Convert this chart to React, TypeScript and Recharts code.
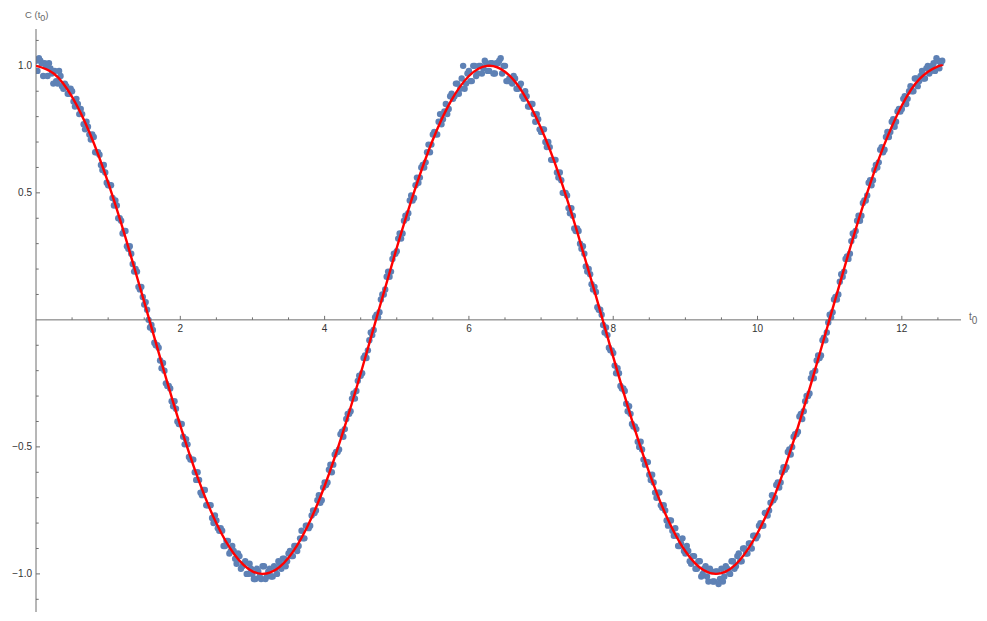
import { ComposedChart, Scatter, Line, XAxis, YAxis, ReferenceLine, ReferenceDot } from "recharts";

// sample times t0 (first pass)
const tValues = [
  0, 0.04, 0.08, 0.12, 0.16, 0.2, 0.24, 0.28, 0.32, 0.36,
  0.4, 0.44, 0.48, 0.52, 0.56, 0.6, 0.64, 0.68, 0.72, 0.76,
  0.8, 0.84, 0.88, 0.92, 0.96, 1, 1.04, 1.08, 1.12, 1.16,
  1.2, 1.24, 1.28, 1.32, 1.36, 1.4, 1.44, 1.48, 1.52, 1.56,
  1.6, 1.64, 1.68, 1.72, 1.76, 1.8, 1.84, 1.88, 1.92, 1.96,
  2, 2.04, 2.08, 2.12, 2.16, 2.2, 2.24, 2.28, 2.32, 2.36,
  2.4, 2.44, 2.48, 2.52, 2.56, 2.6, 2.64, 2.68, 2.72, 2.76,
  2.8, 2.84, 2.88, 2.92, 2.96, 3, 3.04, 3.08, 3.12, 3.16,
  3.2, 3.24, 3.28, 3.32, 3.36, 3.4, 3.44, 3.48, 3.52, 3.56,
  3.6, 3.64, 3.68, 3.72, 3.76, 3.8, 3.84, 3.88, 3.92, 3.96,
  4, 4.04, 4.08, 4.12, 4.16, 4.2, 4.24, 4.28, 4.32, 4.36,
  4.4, 4.44, 4.48, 4.52, 4.56, 4.6, 4.64, 4.68, 4.72, 4.76,
  4.8, 4.84, 4.88, 4.92, 4.96, 5, 5.04, 5.08, 5.12, 5.16,
  5.2, 5.24, 5.28, 5.32, 5.36, 5.4, 5.44, 5.48, 5.52, 5.56,
  5.6, 5.64, 5.68, 5.72, 5.76, 5.8, 5.84, 5.88, 5.92, 5.96,
  6, 6.04, 6.08, 6.12, 6.16, 6.2, 6.24, 6.28, 6.32, 6.36,
  6.4, 6.44, 6.48, 6.52, 6.56, 6.6, 6.64, 6.68, 6.72, 6.76,
  6.8, 6.84, 6.88, 6.92, 6.96, 7, 7.04, 7.08, 7.12, 7.16,
  7.2, 7.24, 7.28, 7.32, 7.36, 7.4, 7.44, 7.48, 7.52, 7.56,
  7.6, 7.64, 7.68, 7.72, 7.76, 7.8, 7.84, 7.88, 7.92, 7.96,
  8, 8.04, 8.08, 8.12, 8.16, 8.2, 8.24, 8.28, 8.32, 8.36,
  8.4, 8.44, 8.48, 8.52, 8.56, 8.6, 8.64, 8.68, 8.72, 8.76,
  8.8, 8.84, 8.88, 8.92, 8.96, 9, 9.04, 9.08, 9.12, 9.16,
  9.2, 9.24, 9.28, 9.32, 9.36, 9.4, 9.44, 9.48, 9.52, 9.56,
  9.6, 9.64, 9.68, 9.72, 9.76, 9.8, 9.84, 9.88, 9.92, 9.96,
  10, 10.04, 10.08, 10.12, 10.16, 10.2, 10.24, 10.28, 10.32, 10.36,
  10.4, 10.44, 10.48, 10.52, 10.56, 10.6, 10.64, 10.68, 10.72, 10.76,
  10.8, 10.84, 10.88, 10.92, 10.96, 11, 11.04, 11.08, 11.12, 11.16,
  11.2, 11.24, 11.28, 11.32, 11.36, 11.4, 11.44, 11.48, 11.52, 11.56,
  11.6, 11.64, 11.68, 11.72, 11.76, 11.8, 11.84, 11.88, 11.92, 11.96,
  12, 12.04, 12.08, 12.12, 12.16, 12.2, 12.24, 12.28, 12.32, 12.36,
  12.4, 12.44, 12.48, 12.52, 12.56,
];

const cValues = [
  1.02, 1.03, 1.01, 1.01, 0.96, 0.99, 0.93, 0.94, 0.98, 0.92,
  0.93, 0.89, 0.91, 0.86, 0.87, 0.81, 0.81, 0.75, 0.76, 0.71,
  0.72, 0.66, 0.65, 0.59, 0.58, 0.53, 0.53, 0.45, 0.45, 0.4,
  0.34, 0.35, 0.28, 0.26, 0.19, 0.19, 0.12, 0.09, 0.07, 0.0,
  -0.02, -0.09, -0.1, -0.16, -0.17, -0.25, -0.26, -0.32, -0.32, -0.4,
  -0.41, -0.46, -0.47, -0.54, -0.55, -0.6, -0.6, -0.68, -0.67, -0.73,
  -0.73, -0.78, -0.77, -0.82, -0.82, -0.89, -0.87, -0.92, -0.89, -0.94,
  -0.92, -0.98, -0.96, -1.0, -0.96, -1.0, -1.02, -0.99, -1.02, -0.97,
  -1.01, -0.98, -1.01, -0.98, -0.95, -0.98, -0.94, -0.95, -0.91, -0.93,
  -0.89, -0.89, -0.83, -0.86, -0.81, -0.81, -0.75, -0.75, -0.69, -0.71,
  -0.64, -0.64, -0.57, -0.57, -0.52, -0.51, -0.44, -0.43, -0.37, -0.36,
  -0.29, -0.28, -0.22, -0.21, -0.14, -0.12, -0.05, -0.04, 0.02, 0.03,
  0.1, 0.12, 0.19, 0.19, 0.26, 0.27, 0.34, 0.34, 0.41, 0.42,
  0.49, 0.48, 0.56, 0.56, 0.61, 0.62, 0.69, 0.69, 0.74, 0.73,
  0.81, 0.79, 0.85, 0.83, 0.89, 0.88, 0.93, 0.91, 1.0, 0.93,
  0.98, 0.94, 1.0, 0.97, 1.0, 0.99, 1.01, 0.98, 1.01, 0.97,
  1.01, 1.03, 1.0, 0.94, 0.95, 0.93, 0.95, 0.91, 0.93, 0.87,
  0.88, 0.84, 0.85, 0.78, 0.79, 0.74, 0.75, 0.68, 0.68, 0.63,
  0.63, 0.56, 0.55, 0.5, 0.49, 0.42, 0.41, 0.35, 0.35, 0.28,
  0.26, 0.19, 0.18, 0.12, 0.11, 0.04, 0.02, -0.05, -0.06, -0.12,
  -0.13, -0.21, -0.21, -0.27, -0.28, -0.36, -0.37, -0.42, -0.43, -0.5,
  -0.51, -0.57, -0.56, -0.63, -0.64, -0.7, -0.68, -0.74, -0.75, -0.81,
  -0.79, -0.85, -0.85, -0.89, -0.86, -0.92, -0.91, -0.96, -0.93, -0.98,
  -0.95, -1.0, -0.97, -1.03, -0.99, -1.03, -0.99, -1.02, -1.03, -0.97,
  -0.99, -0.95, -0.98, -0.93, -0.95, -0.9, -0.92, -0.88, -0.9, -0.85,
  -0.85, -0.8, -0.81, -0.76, -0.75, -0.69, -0.7, -0.64, -0.64, -0.58,
  -0.58, -0.51, -0.5, -0.45, -0.44, -0.37, -0.36, -0.3, -0.29, -0.21,
  -0.2, -0.14, -0.14, -0.07, -0.05, 0.02, 0.03, 0.09, 0.1, 0.18,
  0.19, 0.25, 0.26, 0.34, 0.35, 0.41, 0.41, 0.47, 0.49, 0.55,
  0.55, 0.61, 0.62, 0.68, 0.67, 0.74, 0.74, 0.79, 0.78, 0.83,
  0.83, 0.88, 0.87, 0.92, 0.9, 0.95, 0.94, 0.98, 0.95, 1.0,
  0.98, 1.01, 1.03, 0.99, 1.02,
];

// sample times t0 (interleaved pass)
const midT = [
  0.02, 0.06, 0.1, 0.14, 0.18, 0.22, 0.26, 0.3, 0.34, 0.38,
  0.42, 0.46, 0.5, 0.54, 0.58, 0.62, 0.66, 0.7, 0.74, 0.78,
  0.82, 0.86, 0.9, 0.94, 0.98, 1.02, 1.06, 1.1, 1.14, 1.18,
  1.22, 1.26, 1.3, 1.34, 1.38, 1.42, 1.46, 1.5, 1.54, 1.58,
  1.62, 1.66, 1.7, 1.74, 1.78, 1.82, 1.86, 1.9, 1.94, 1.98,
  2.02, 2.06, 2.1, 2.14, 2.18, 2.22, 2.26, 2.3, 2.34, 2.38,
  2.42, 2.46, 2.5, 2.54, 2.58, 2.62, 2.66, 2.7, 2.74, 2.78,
  2.82, 2.86, 2.9, 2.94, 2.98, 3.02, 3.06, 3.1, 3.14, 3.18,
  3.22, 3.26, 3.3, 3.34, 3.38, 3.42, 3.46, 3.5, 3.54, 3.58,
  3.62, 3.66, 3.7, 3.74, 3.78, 3.82, 3.86, 3.9, 3.94, 3.98,
  4.02, 4.06, 4.1, 4.14, 4.18, 4.22, 4.26, 4.3, 4.34, 4.38,
  4.42, 4.46, 4.5, 4.54, 4.58, 4.62, 4.66, 4.7, 4.74, 4.78,
  4.82, 4.86, 4.9, 4.94, 4.98, 5.02, 5.06, 5.1, 5.14, 5.18,
  5.22, 5.26, 5.3, 5.34, 5.38, 5.42, 5.46, 5.5, 5.54, 5.58,
  5.62, 5.66, 5.7, 5.74, 5.78, 5.82, 5.86, 5.9, 5.94, 5.98,
  6.02, 6.06, 6.1, 6.14, 6.18, 6.22, 6.26, 6.3, 6.34, 6.38,
  6.42, 6.46, 6.5, 6.54, 6.58, 6.62, 6.66, 6.7, 6.74, 6.78,
  6.82, 6.86, 6.9, 6.94, 6.98, 7.02, 7.06, 7.1, 7.14, 7.18,
  7.22, 7.26, 7.3, 7.34, 7.38, 7.42, 7.46, 7.5, 7.54, 7.58,
  7.62, 7.66, 7.7, 7.74, 7.78, 7.82, 7.86, 7.9, 7.94, 7.98,
  8.02, 8.06, 8.1, 8.14, 8.18, 8.22, 8.26, 8.3, 8.34, 8.38,
  8.42, 8.46, 8.5, 8.54, 8.58, 8.62, 8.66, 8.7, 8.74, 8.78,
  8.82, 8.86, 8.9, 8.94, 8.98, 9.02, 9.06, 9.1, 9.14, 9.18,
  9.22, 9.26, 9.3, 9.34, 9.38, 9.42, 9.46, 9.5, 9.54, 9.58,
  9.62, 9.66, 9.7, 9.74, 9.78, 9.82, 9.86, 9.9, 9.94, 9.98,
  10.02, 10.06, 10.1, 10.14, 10.18, 10.22, 10.26, 10.3, 10.34, 10.38,
  10.42, 10.46, 10.5, 10.54, 10.58, 10.62, 10.66, 10.7, 10.74, 10.78,
  10.82, 10.86, 10.9, 10.94, 10.98, 11.02, 11.06, 11.1, 11.14, 11.18,
  11.22, 11.26, 11.3, 11.34, 11.38, 11.42, 11.46, 11.5, 11.54, 11.58,
  11.62, 11.66, 11.7, 11.74, 11.78, 11.82, 11.86, 11.9, 11.94, 11.98,
  12.02, 12.06, 12.1, 12.14, 12.18, 12.22, 12.26, 12.3, 12.34, 12.38,
  12.42, 12.46, 12.5, 12.54,
];

const midC = [
  0.98, 1.02, 0.96, 1.0, 1.01, 0.97, 0.98, 0.93, 0.96, 0.91,
  0.92, 0.89, 0.9, 0.84, 0.85, 0.83, 0.77, 0.78, 0.73, 0.73,
  0.66, 0.66, 0.61, 0.61, 0.54, 0.53, 0.48, 0.47, 0.4, 0.39,
  0.35, 0.29, 0.29, 0.22, 0.2, 0.13, 0.13, 0.06, 0.04, -0.03,
  -0.04, -0.1, -0.11, -0.19, -0.2, -0.26, -0.27, -0.34, -0.35, -0.41,
  -0.41, -0.49, -0.49, -0.55, -0.55, -0.63, -0.63, -0.69, -0.67, -0.73,
  -0.73, -0.8, -0.79, -0.83, -0.83, -0.89, -0.87, -0.91, -0.91, -0.96,
  -0.93, -0.97, -0.95, -1.0, -0.98, -1.02, -0.98, -1.01, -0.97, -1.02,
  -0.99, -1.01, -0.97, -1.0, -0.96, -0.94, -0.97, -0.92, -0.93, -0.89,
  -0.91, -0.86, -0.86, -0.81, -0.82, -0.77, -0.76, -0.71, -0.72, -0.66,
  -0.65, -0.59, -0.6, -0.53, -0.52, -0.45, -0.46, -0.39, -0.37, -0.31,
  -0.31, -0.24, -0.22, -0.15, -0.15, -0.08, -0.06, 0.01, 0.01, 0.08,
  0.1, 0.17, 0.17, 0.24, 0.26, 0.32, 0.32, 0.39, 0.4, 0.47,
  0.47, 0.53, 0.54, 0.6, 0.6, 0.66, 0.66, 0.73, 0.73, 0.78,
  0.77, 0.82, 0.81, 0.88, 0.87, 0.93, 0.89, 0.95, 0.91, 0.97,
  0.94, 1.0, 0.96, 1.0, 0.97, 1.02, 0.98, 1.01, 0.97, 1.01,
  1.02, 0.97, 1.0, 0.94, 0.95, 0.96, 0.91, 0.92, 0.88, 0.9,
  0.84, 0.85, 0.81, 0.81, 0.75, 0.75, 0.7, 0.7, 0.63, 0.63,
  0.58, 0.58, 0.5, 0.5, 0.44, 0.44, 0.36, 0.36, 0.3, 0.29,
  0.21, 0.2, 0.14, 0.13, 0.05, 0.04, -0.02, -0.03, -0.11, -0.12,
  -0.18, -0.19, -0.26, -0.27, -0.33, -0.34, -0.41, -0.42, -0.48, -0.48,
  -0.55, -0.56, -0.61, -0.61, -0.68, -0.68, -0.73, -0.73, -0.79, -0.79,
  -0.83, -0.82, -0.89, -0.88, -0.91, -0.89, -0.95, -0.93, -0.98, -0.95,
  -1.01, -0.98, -1.01, -0.98, -1.03, -0.99, -1.04, -0.98, -1.01, -0.98,
  -1.0, -0.95, -0.97, -0.92, -0.95, -0.9, -0.92, -0.88, -0.85, -0.86,
  -0.81, -0.81, -0.76, -0.77, -0.72, -0.71, -0.65, -0.66, -0.6, -0.59,
  -0.52, -0.53, -0.46, -0.45, -0.38, -0.39, -0.32, -0.3, -0.23, -0.23,
  -0.16, -0.15, -0.08, -0.08, -0.01, 0.01, 0.08, 0.08, 0.15, 0.17,
  0.24, 0.24, 0.31, 0.33, 0.39, 0.39, 0.46, 0.47, 0.54, 0.53,
  0.59, 0.6, 0.67, 0.66, 0.72, 0.72, 0.78, 0.76, 0.82, 0.82,
  0.87, 0.85, 0.9, 0.9, 0.95, 0.92, 0.96, 0.95, 0.99, 0.97,
  1.0, 0.98, 1.02, 1.01,
];

// fitted curve
const fitT = [
  0, 0.25, 0.5, 0.75, 1, 1.25, 1.5, 1.75, 2, 2.25, 2.5, 2.75, 3, 3.25, 3.5, 3.75,
  4, 4.25, 4.5, 4.75, 5, 5.25, 5.5, 5.75, 6, 6.25, 6.5, 6.75, 7, 7.25, 7.5, 7.75,
  8, 8.25, 8.5, 8.75, 9, 9.25, 9.5, 9.75, 10, 10.25, 10.5, 10.75, 11, 11.25, 11.5,
  11.75, 12, 12.25, 12.5, 12.566,
];
const fitC = [
  1, 0.969, 0.878, 0.732, 0.54, 0.315, 0.071, -0.178, -0.416, -0.628, -0.801, -0.924,
  -0.99, -0.994, -0.936, -0.82, -0.654, -0.446, -0.211, 0.038, 0.284, 0.512, 0.709,
  0.861, 0.96, 1.0, 0.977, 0.893, 0.754, 0.57, 0.347, 0.104, -0.146, -0.386, -0.602,
  -0.781, -0.911, -0.985, -0.997, -0.947, -0.839, -0.682, -0.476, -0.243, 0.004,
  0.251, 0.483, 0.685, 0.844, 0.95, 0.998, 1.0,
];

const xMajor = [2, 4, 6, 8, 10, 12];
const xMinor = [0.5, 1, 1.5, 2.5, 3, 3.5, 4.5, 5, 5.5, 6.5, 7, 7.5, 8.5, 9, 9.5, 10.5, 11, 11.5, 12.5];
const yMajor = [1, 0.5, -0.5, -1];
const yMajorLabels = ["1.0", "0.5", "\u22120.5", "\u22121.0"];
const yMinor = [1.1, 0.9, 0.8, 0.7, 0.6, 0.4, 0.3, 0.2, 0.1, -0.1, -0.2, -0.3, -0.4, -0.6, -0.7, -0.8, -0.9, -1.1];

const X_MAX = 12.82;
const Y_MIN = -1.15;
const Y_MAX = 1.145;

const points = [
  ...tValues.map((t, i) => ({ t, c: cValues[i] })),
  ...midT.map((t, i) => ({ t, c: midC[i] })),
];
const fit = fitT.map((t, i) => ({ t, fit: fitC[i] }));

const AXIS = "#6e6e6e";
const NUM = "#333";
const LABEL = "#666";
const FONT = "'Liberation Sans', Arial, sans-serif";

const xTick = (len: number, label?: string) => (p: any) => (
  <g>
    <line x1={p.cx} y1={p.cy} x2={p.cx} y2={p.cy - len} stroke={AXIS} strokeWidth={1} />
    {label && (
      <text x={p.cx} y={p.cy + 12} textAnchor="middle" fontSize={10} fill={NUM} fontFamily={FONT}>
        {label}
      </text>
    )}
  </g>
);

const yTick = (len: number, label?: string) => (p: any) => (
  <g>
    <line x1={p.cx} y1={p.cy} x2={p.cx + len} y2={p.cy} stroke={AXIS} strokeWidth={1} />
    {label && (
      <text x={p.cx - 4} y={p.cy + 3.6} textAnchor="end" fontSize={10} fill={NUM} fontFamily={FONT}>
        {label}
      </text>
    )}
  </g>
);

const yAxisTitle = (p: any) => (
  <text x={p.cx - 11} y={p.cy - 11} fontSize={9.5} fill={LABEL} fontFamily={FONT}>
    C (t<tspan dy={3} fontSize={9}>0</tspan>
    <tspan dy={-3}>)</tspan>
  </text>
);

const xAxisTitle = (p: any) => (
  <text x={p.cx + 8} y={p.cy} fontSize={10} fill={LABEL} fontFamily={FONT}>
    t<tspan dy={4} fontSize={10}>0</tspan>
  </text>
);

const dot = (p: any) => <circle cx={p.cx} cy={p.cy} r={3.2} fill="#5E81B5" />;

export default function App() {
  return (
    <ComposedChart width={975} height={605} margin={{ top: 21, right: 22, bottom: 1, left: 28 }}>
      <XAxis dataKey="t" type="number" domain={[0, X_MAX]} allowDataOverflow hide />
      <YAxis type="number" domain={[Y_MIN, Y_MAX]} allowDataOverflow hide />
      <ReferenceLine y={0} stroke={AXIS} strokeWidth={1} />
      <ReferenceLine x={0} stroke={AXIS} strokeWidth={1} />
      {xMinor.map((v) => (
        <ReferenceDot key={"xm" + v} x={v} y={0} shape={xTick(2.5)} />
      ))}
      {xMajor.map((v) => (
        <ReferenceDot key={"xM" + v} x={v} y={0} shape={xTick(4, String(v))} />
      ))}
      {yMinor.map((v) => (
        <ReferenceDot key={"ym" + v} x={0} y={v} shape={yTick(2.7)} />
      ))}
      {yMajor.map((v, i) => (
        <ReferenceDot key={"yM" + v} x={0} y={v} shape={yTick(4, yMajorLabels[i])} />
      ))}
      <ReferenceDot x={0} y={Y_MAX} shape={yAxisTitle} />
      <ReferenceDot x={X_MAX} y={0} shape={xAxisTitle} />
      <Scatter data={points} dataKey="c" shape={dot} isAnimationActive={false} zIndex={300} />
      <Line
        data={fit}
        dataKey="fit"
        type="natural"
        stroke="#FF0000"
        strokeWidth={2.4}
        dot={false}
        activeDot={false}
        isAnimationActive={false}
        zIndex={900}
      />
    </ComposedChart>
  );
}
